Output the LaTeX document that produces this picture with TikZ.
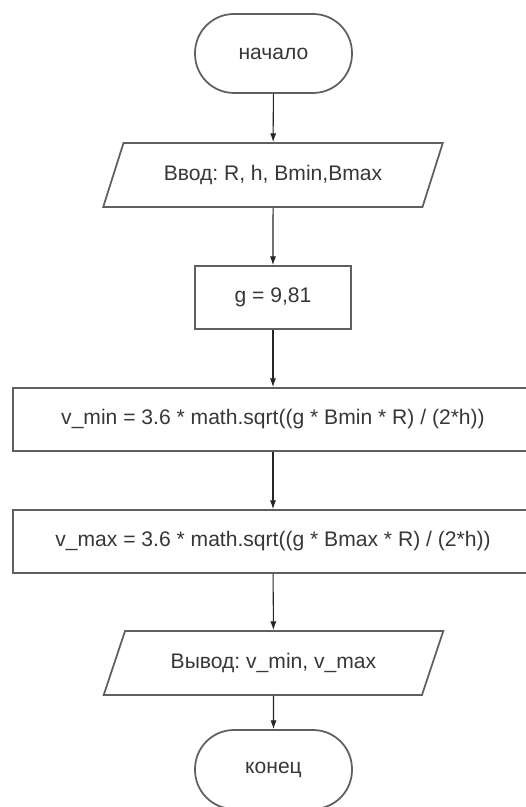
\documentclass[tikz,border=0pt]{standalone}
\usepackage{fontspec}
\setmainfont{Liberation Sans}
\usetikzlibrary{shapes.geometric,arrows.meta}
\definecolor{boxgray}{RGB}{95,95,95}
\definecolor{textgray}{RGB}{55,55,55}
\frenchspacing

\begin{document}
\begin{tikzpicture}[x=0.02cm,y=0.02cm,
    every node/.style={font=\fontsize{12}{14}\selectfont, text=textgray},
    term/.style={draw=boxgray, line width=1pt, rectangle, rounded corners=0.78cm,
      minimum width=3.14cm, minimum height=1.58cm},
    io/.style={draw=boxgray, line width=1pt, trapezium, trapezium left angle=63.4,
      trapezium right angle=116.6, trapezium stretches=true,
      minimum width=6.8cm, minimum height=1.28cm},
    proc/.style={draw=boxgray, line width=1pt, rectangle, minimum height=1.26cm},
    flow/.style={-{Latex[length=5pt,width=3.5pt]}, line width=0.6pt, black!85}]
  \useasboundingbox (0,0) rectangle (525,807);

  % blocks of the scheme
  \node[term] (start) at (273.5,753.5) {начало};
  \node[io] (input) at (273,632) {Ввод: R, h, Bmin,Bmax};
  \node[proc, minimum width=3.12cm] (gval) at (273,509.5) {g = 9,81};
  \node[proc, minimum width=10.4cm] (vmin) at (273,387.5)
    {v\_min = 3.6 * math.sqrt((g * Bmin * R) / (2*h))};
  \node[proc, minimum width=10.4cm] (vmax) at (273,265.5)
    {v\_max = 3.6 * math.sqrt((g * Bmax * R) / (2*h))};
  \node[io] (output) at (273.5,144) {Вывод: v\_min, v\_max};
  \node[term] (stop) at (273.5,37.5) {конец};

  % arrows
  \draw[flow] (start) -- (input);
  \draw[flow] (input) -- (gval);
  \draw[flow] (gval) -- (vmin);
  \draw[flow] (vmin) -- (vmax);
  \draw[flow] (vmax) -- (output);
  \draw[flow] (output) -- (stop);
\end{tikzpicture}
\end{document}
